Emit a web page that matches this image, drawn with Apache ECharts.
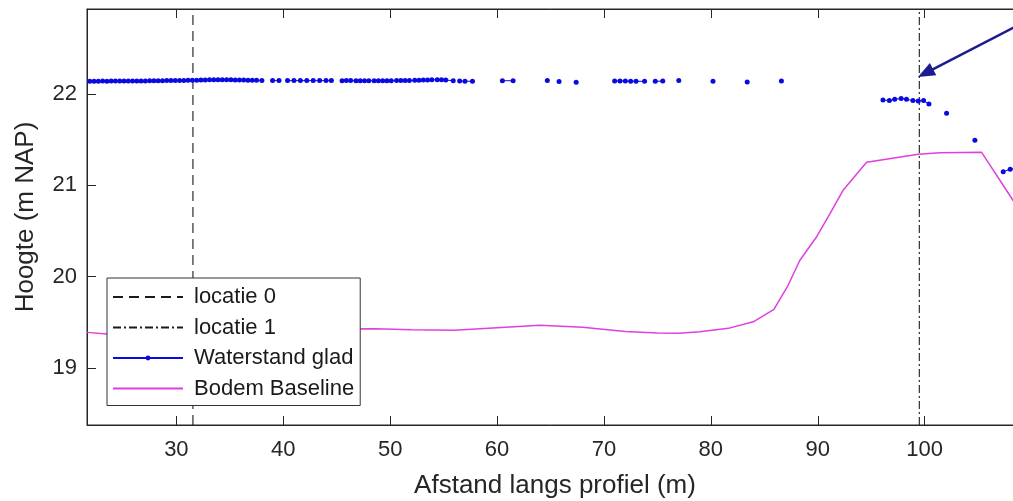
<!DOCTYPE html>
<html>
<head>
<meta charset="utf-8">
<script src="https://cdn.jsdelivr.net/npm/echarts@6/dist/echarts.min.js"></script>
<style>
  html, body { margin: 0; padding: 0; background: #ffffff; }
  #chart { width: 1013px; height: 501px; }
</style>
</head>
<body>
<div id="chart"></div>
<script>
// Axis limits and tick values
const xMin = 21.64, xMax = 109.2;
const yMin = 18.376, yMax = 22.93;
const xTicks = [30, 40, 50, 60, 70, 80, 90, 100];
const yTicks = [19, 20, 21, 22];

// Reference locations along the profile (m)
const locatie0X = 31.55;
const locatie1X = 99.5;

// Smoothed water level; null marks a break in the measured line
const waterX = [
  21.9, 22.3, 22.7, 23.1, 23.5, 23.9, 24.3, 24.7, 25.1, 25.5, 25.9, 26.3, 26.7, 27.1,
  27.5, 27.9, 28.3, 28.7, 29.1, 29.5, 29.9, 30.3, 30.7, 31.1, 31.5, 31.9, 32.3, 32.7,
  33.1, 33.5, 33.9, 34.3, 34.7, 35.1, 35.5, 35.9, 36.3, 36.7, 37.1, 37.5, 38.0,
  null,
  39.0, 39.6,
  null,
  40.4, 41.0, 41.6, 42.2, 42.8, 43.4, 44.0, 44.5,
  null,
  45.5, 45.9, 46.3, 46.8, 47.2, 47.6, 48.0, 48.5, 48.9, 49.3, 49.7, 50.1, 50.6, 51.0,
  51.4, 51.8, 52.3, 52.7, 53.1, 53.5, 53.9, 54.4, 54.8, 55.2, 55.9,
  null,
  56.5, 57.0, 57.7,
  null,
  60.5, 61.5,
  null,
  64.7, null, 65.8, null, 67.4,
  null,
  71.0, 71.5, 72.0, 72.5, 73.0, 73.8,
  null,
  74.8, 75.5,
  null,
  77.0, null, 80.2, null, 83.4, null, 86.6,
  null,
  96.1, 96.7, 97.2, 97.8, 98.3, 98.9, 99.4, 99.9, 100.4,
  null,
  102.05, null, 104.7,
  null,
  107.35, 108.0, 108.9
];
const waterY = [
  22.140, 22.140, 22.140, 22.141, 22.140, 22.141, 22.142, 22.141, 22.142, 22.142, 22.143, 22.142, 22.143, 22.143,
  22.144, 22.144, 22.145, 22.145, 22.146, 22.146, 22.147, 22.147, 22.148, 22.149, 22.150, 22.151, 22.152, 22.153,
  22.155, 22.156, 22.156, 22.156, 22.155, 22.155, 22.154, 22.153, 22.152, 22.151, 22.150, 22.149, 22.148,
  null,
  22.146, 22.146,
  null,
  22.146, 22.146, 22.146, 22.146, 22.146, 22.146, 22.146, 22.146,
  null,
  22.145, 22.146, 22.146, 22.145, 22.145, 22.145, 22.144, 22.144, 22.144, 22.145, 22.145, 22.145, 22.146, 22.146,
  22.147, 22.148, 22.149, 22.150, 22.152, 22.154, 22.156, 22.156, 22.155, 22.152, 22.145,
  null,
  22.142, 22.140, 22.138,
  null,
  22.145, 22.145,
  null,
  22.146, null, 22.135, null, 22.128,
  null,
  22.142, 22.142, 22.141, 22.140, 22.139, 22.138,
  null,
  22.138, 22.141,
  null,
  22.146, null, 22.140, null, 22.132, null, 22.142,
  null,
  21.934, 21.927, 21.942, 21.949, 21.942, 21.927, 21.924, 21.927, 21.890,
  null,
  21.789, null, 21.493,
  null,
  21.149, 21.175, 21.200
];

// Bed level, baseline survey
const baseX = [
  21.64, 23.5, 27.0, 32.0, 38.0, 44.0, 48.6, 52.0, 56.0, 60.0, 64.0, 68.0, 72.0, 75.0,
  77.0, 78.97, 81.63, 83.97, 85.9, 87.2, 88.33, 89.9, 91.2, 92.39, 94.57, 99.4, 101.43,
  105.33, 108.14, 109.2
];
const baseY = [
  19.390, 19.372, 19.380, 19.400, 19.418, 19.428, 19.430, 19.418, 19.412, 19.440, 19.468,
  19.445, 19.400, 19.382, 19.380, 19.397, 19.434, 19.506, 19.642, 19.900, 20.180, 20.437,
  20.700, 20.949, 21.252, 21.340, 21.357, 21.361, 20.858, 20.670
];

// Annotation arrow pointing at locatie 1 (tail at the right edge of the axes)
const arrowFrom = [109.15, 22.777];
const arrowTo = [100.08, 22.229];

const FONT = '"Liberation Sans", Arial, Helvetica, sans-serif';
const AXIS_COLOR = '#262626';

const waterData = waterX.map((x, i) =>
  (x === null || waterY[i] === null) ? ['-', '-'] : [x, waterY[i]]);
const baseData = baseX.map((x, i) => [x, baseY[i]]);

const chart = echarts.init(document.getElementById('chart'), null, { renderer: 'canvas' });

chart.setOption({
  animation: false,
  backgroundColor: '#ffffff',
  grid: {
    left: 87, top: 9, right: -10, bottom: 76,
    outerBoundsMode: 'none',
    containLabel: false,
    show: true, borderColor: AXIS_COLOR, borderWidth: 1, backgroundColor: 'transparent'
  },
  legend: {
    orient: 'vertical',
    left: 107, top: 278,
    itemWidth: 70, itemHeight: 6, itemGap: 8.5,
    padding: [8, 6, 6, 5],
    backgroundColor: '#ffffff',
    borderColor: '#333333', borderWidth: 1, borderRadius: 0,
    selectedMode: false,
    textStyle: { fontFamily: FONT, fontSize: 22, lineHeight: 22, color: '#1a1a1a', padding: [0, 0, 0, 6] },
    data: [
      { name: 'locatie 0', itemStyle: { opacity: 0, color: 'rgba(0,0,0,0)', borderWidth: 0 } },
      { name: 'locatie 1', itemStyle: { opacity: 0, color: 'rgba(0,0,0,0)', borderWidth: 0 } },
      { name: 'Waterstand glad' },
      { name: 'Bodem Baseline', itemStyle: { opacity: 0, color: 'rgba(0,0,0,0)', borderWidth: 0 } }
    ]
  },
  xAxis: [
    {
      type: 'value', position: 'bottom', min: xMin, max: xMax,
      name: 'Afstand langs profiel (m)', nameLocation: 'middle', nameGap: 48,
      nameTextStyle: { fontFamily: FONT, fontSize: 26, color: AXIS_COLOR },
      axisLine: { show: true, lineStyle: { color: AXIS_COLOR, width: 1 } },
      axisTick: { show: true, inside: true, length: 9, customValues: xTicks, lineStyle: { color: AXIS_COLOR } },
      axisLabel: { show: true, customValues: xTicks, margin: 14, fontFamily: FONT, fontSize: 22, color: AXIS_COLOR },
      splitLine: { show: false }
    },
    {
      type: 'value', position: 'top', min: xMin, max: xMax,
      axisLine: { show: true, lineStyle: { color: AXIS_COLOR, width: 1 } },
      axisTick: { show: true, inside: true, length: 9, customValues: xTicks, lineStyle: { color: AXIS_COLOR } },
      axisLabel: { show: false },
      splitLine: { show: false }
    }
  ],
  yAxis: {
    type: 'value', min: yMin, max: yMax,
    name: 'Hoogte (m NAP)', nameLocation: 'middle', nameGap: 48,
    nameTextStyle: { fontFamily: FONT, fontSize: 26, color: AXIS_COLOR },
    axisLine: { show: true, lineStyle: { color: AXIS_COLOR, width: 1 } },
    axisTick: { show: true, inside: true, length: 9, customValues: yTicks, lineStyle: { color: AXIS_COLOR } },
    axisLabel: { show: true, customValues: yTicks, margin: 10, fontFamily: FONT, fontSize: 22, color: AXIS_COLOR },
    splitLine: { show: false }
  },
  series: [
    {
      name: 'locatie 0', type: 'line', symbol: 'none', z: 3, silent: true,
      data: [[locatie0X, yMin], [locatie0X, yMax]],
      lineStyle: { color: '#1a1a1a', width: 1.1, type: [10, 6] },
      itemStyle: { color: '#1a1a1a' }
    },
    {
      name: 'locatie 1', type: 'line', symbol: 'none', z: 3, silent: true, clip: false,
      data: [[locatie1X, yMin], [locatie1X, yMax]],
      lineStyle: { color: '#1a1a1a', width: 1.1, type: [8, 3, 2, 3] },
      itemStyle: { color: '#1a1a1a' },
      markLine: {
        silent: true,
        symbol: ['none', 'triangle'],
        symbolSize: [14, 17],
        label: { show: false },
        lineStyle: { color: '#1c1c8e', width: 2.6, type: 'solid' },
        itemStyle: { color: '#1c1c8e' },
        data: [[{ coord: arrowFrom }, { coord: arrowTo }]]
      }
    },
    {
      name: 'Waterstand glad', type: 'line', z: 4, silent: true,
      symbol: 'circle', symbolSize: 5, showSymbol: true, showAllSymbol: true,
      connectNulls: false,
      data: waterData,
      lineStyle: { color: '#0a0ae0', width: 1 },
      itemStyle: { color: '#0a0ae0' }
    },
    {
      name: 'Bodem Baseline', type: 'line', symbol: 'none', z: 2, silent: true,
      data: baseData,
      lineStyle: { color: '#df3fdf', width: 1.5 },
      itemStyle: { color: '#df3fdf' }
    }
  ]
});
</script>
</body>
</html>
